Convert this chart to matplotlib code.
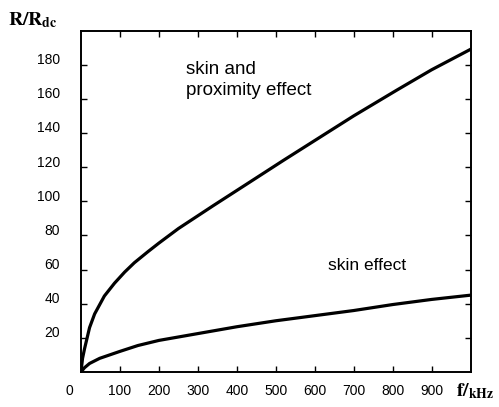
import numpy as np
import matplotlib
matplotlib.use('Agg')
import matplotlib.pyplot as plt
import matplotlib.transforms as mtransforms

# values
f_prox = [0, 4, 9, 22, 35, 60, 86, 112, 137, 172, 200, 250, 300, 340, 425, 520, 610, 700, 810, 900, 1000]
r_prox = [0, 8, 13.5, 26, 34, 44.5, 52, 58.5, 64, 70.5, 75.5, 84, 91.5, 97.5, 110, 124, 137, 150, 165, 177, 189]
f_skin = [0, 9, 22, 48, 99, 146, 200, 250, 300, 400, 500, 600, 700, 800, 900, 1000]
r_skin = [0, 2.5, 5, 8, 12, 15.5, 18.5, 20.5, 22.5, 26.5, 30, 33, 36, 39.5, 42.5, 45]

xticks = [100, 200, 300, 400, 500, 600, 700, 800, 900]
yticks = [20, 40, 60, 80, 100, 120, 140, 160, 180]

sans = ['Liberation Sans', 'DejaVu Sans']

fig = plt.figure(figsize=(4.99, 4.07), dpi=100)
ax = fig.add_axes([0.1623, 0.086, 0.943 - 0.1623, 0.925 - 0.086])

ax.plot(f_prox, r_prox, color='black', lw=2.3, solid_capstyle='round', solid_joinstyle='round')
ax.plot(f_skin, r_skin, color='black', lw=2.3, solid_capstyle='round', solid_joinstyle='round')

ax.set_xlim(0, 1000)
ax.set_ylim(0, 200)
ax.set_xticks(xticks)
ax.set_yticks(yticks)
ax.set_xticklabels([str(v) for v in xticks], family=sans, fontsize=10)
ax.set_yticklabels([str(v) for v in yticks], family=sans, fontsize=10)
ax.tick_params(direction='in', length=4, width=1, top=True, right=True, pad=9)
ax.tick_params(axis='y', pad=15)
for s in ax.spines.values():
    s.set_linewidth(1.4)

# y labels sit a bit above their ticks in the original
off = mtransforms.ScaledTranslation(0, 6 / 100, fig.dpi_scale_trans)
for lab in ax.get_yticklabels():
    lab.set_transform(lab.get_transform() + off)

ax.text(-0.03, -0.055, '0', transform=ax.transAxes, ha='center', va='center',
        family=sans, fontsize=10)

ax.text(269, 182, 'skin and\nproximity effect', family=sans, fontsize=13.5,
        va='top', ha='left', linespacing=1.3)
ax.text(633, 62.5, 'skin effect', family=sans, fontsize=12.5, va='center', ha='left')

fig.text(0.016, 0.95, r'$\mathbf{R/R_{dc}}$', fontsize=14, ha='left', va='center',
         math_fontfamily='stix')
fig.text(0.914, 0.039, r'$\mathbf{f/_{kHz}}$', fontsize=14, ha='left', va='center',
         math_fontfamily='stix')

fig.savefig('out.png', dpi=100)
